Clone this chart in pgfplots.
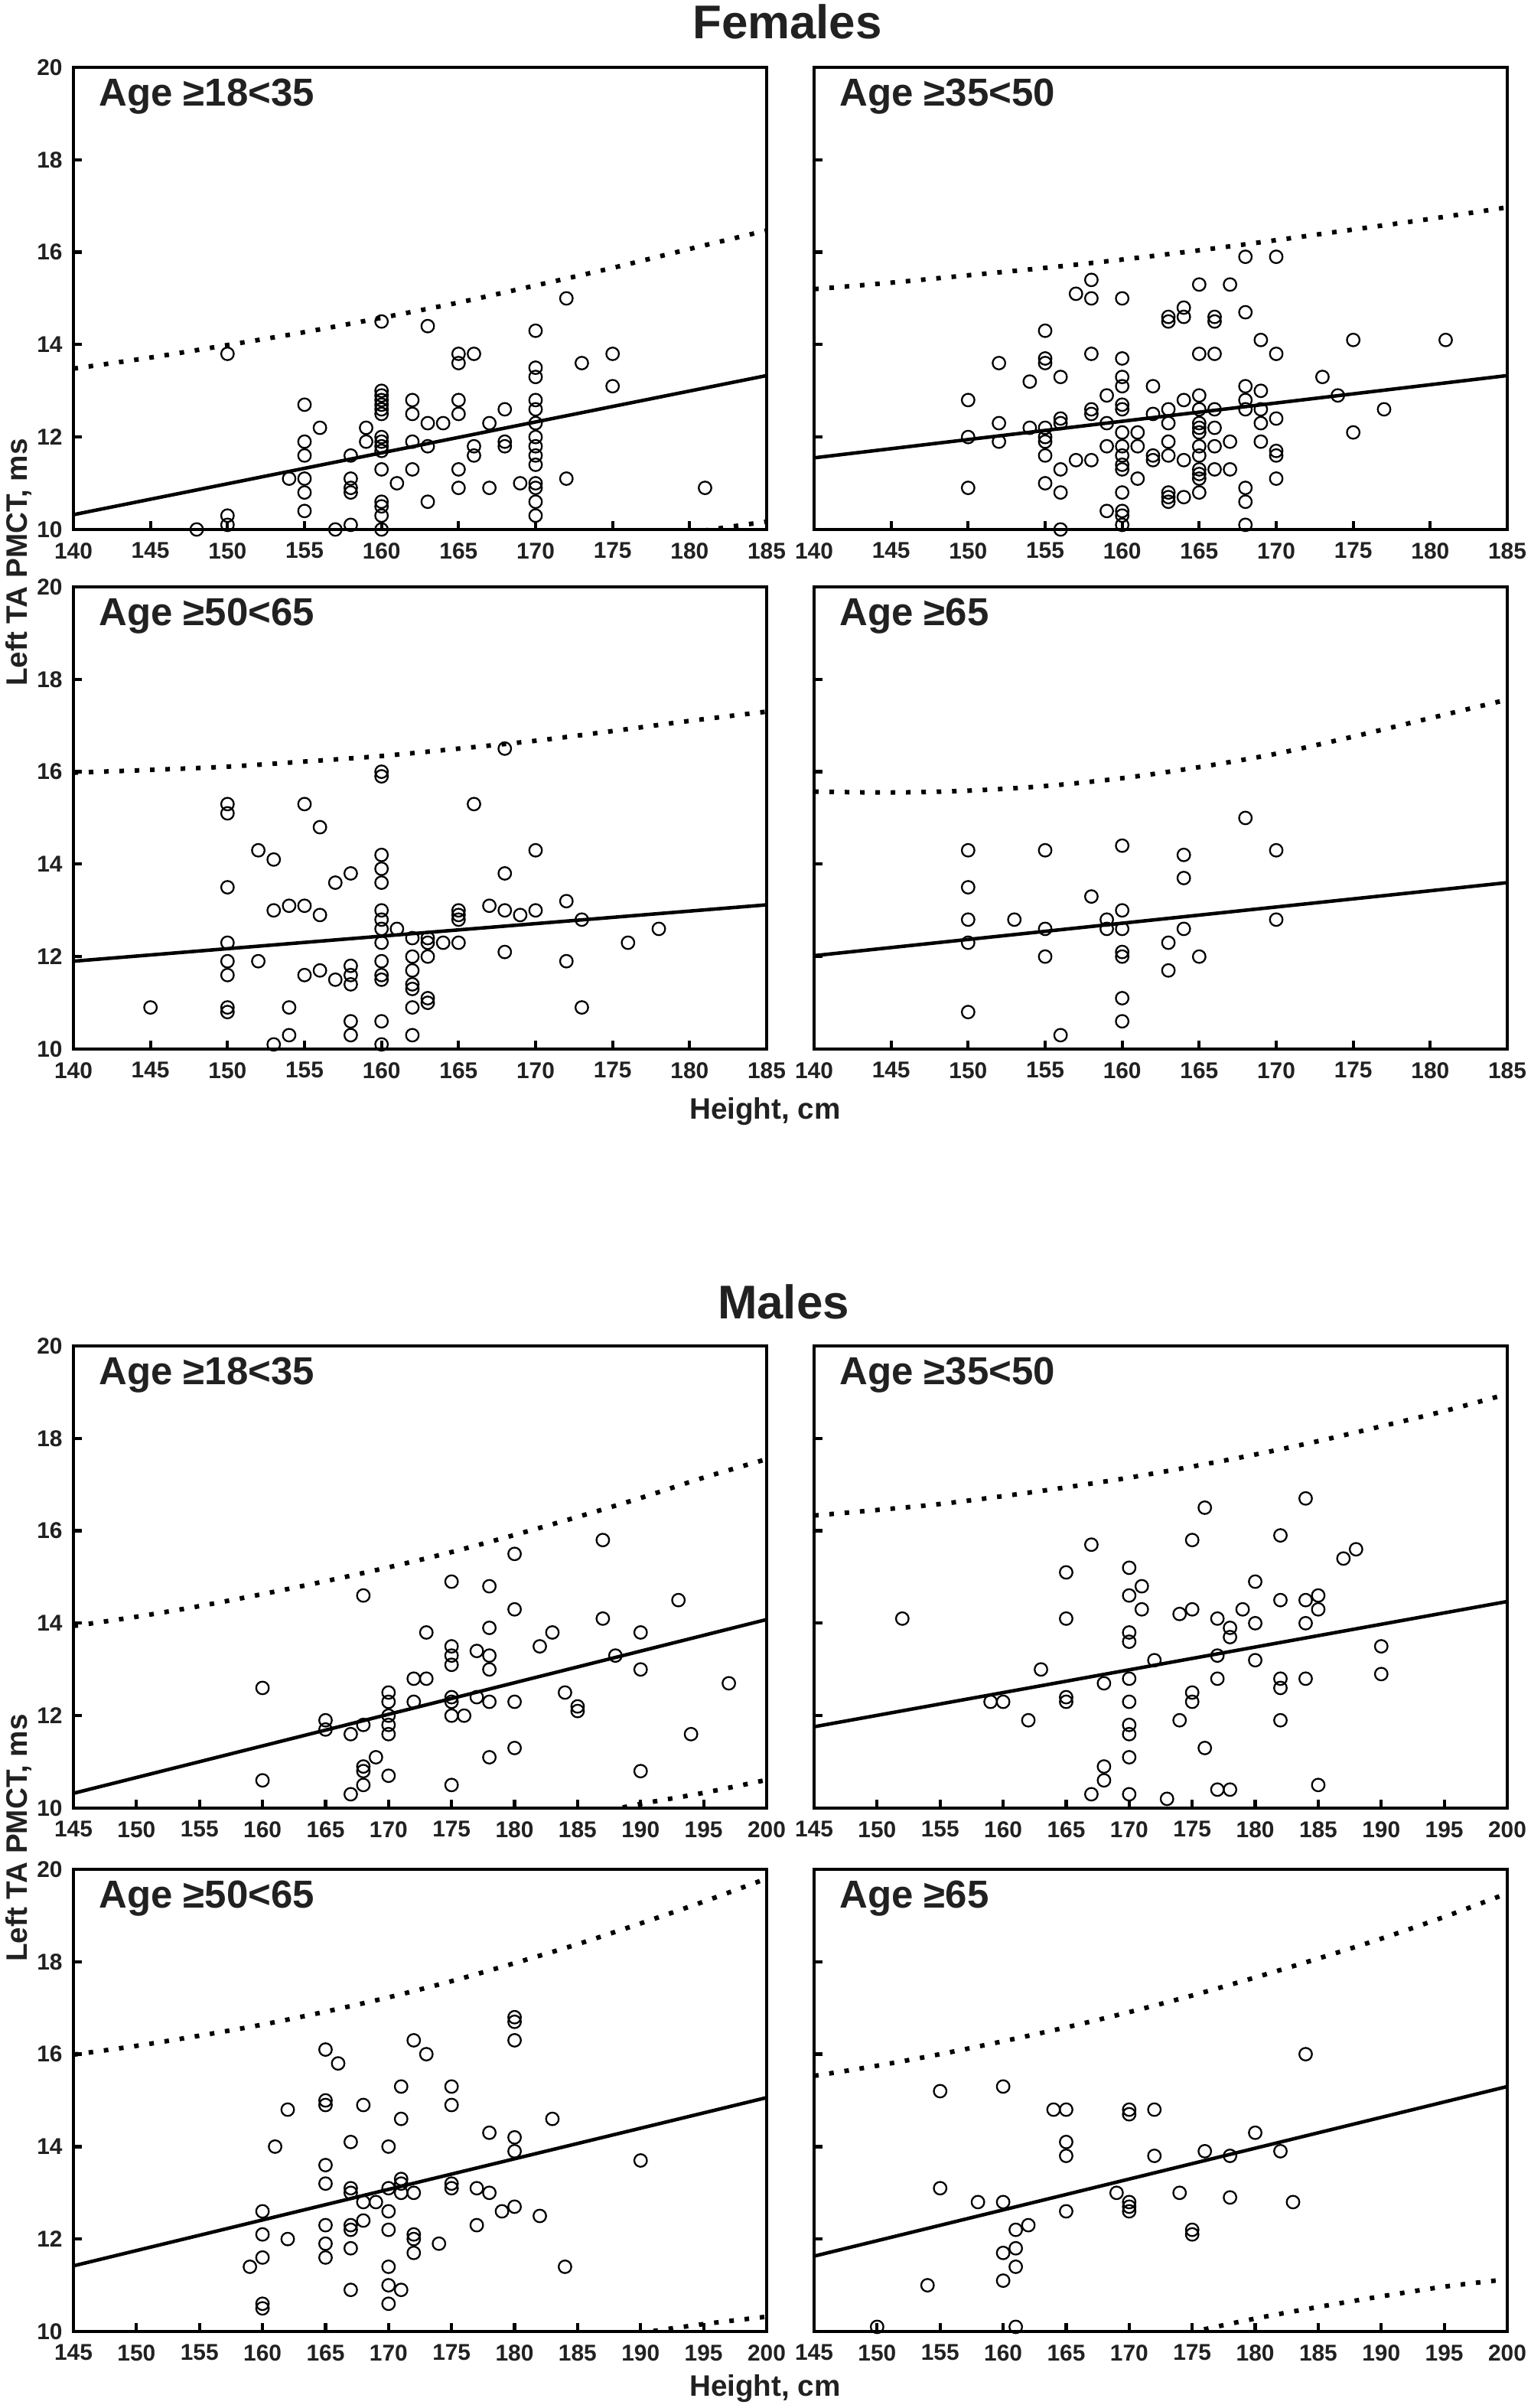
\documentclass[border=0pt]{standalone}
\usepackage{fontspec}
\setmainfont{Liberation Sans}
\usepackage{pgfplots}
\pgfplotsset{compat=1.18}
\definecolor{txt}{gray}{0.13}
\pgfplotsset{
 panel/.style={
  scale only axis, width=9.06cm, height=6.04cm,
  ymin=10, ymax=20, ytick={10,12,...,20},
  axis line style={line width=1.3pt},
  tick style={black, line width=1.2pt},
  major tick length=0.11cm,
  tick align=inside,
  xtick pos=left, ytick pos=left,
  /pgf/number format/assume math mode=true,
  ticklabel style={font=\fontsize{8.5}{10}\selectfont\bfseries, text=txt},
  xticklabel style={yshift=-0.05cm},
  yticklabel style={xshift=-0.02cm},
 },
 fem/.style={panel, xmin=140, xmax=185, xtick={140,145,...,185}},
 mal/.style={panel, xmin=145, xmax=200, xtick={145,150,...,200}},
 noy/.style={yticklabels={}},
 pts/.style={only marks, mark=o, mark size=2.35pt, mark options={line width=0.65pt, black}},
 reg/.style={black, line width=1.3pt},
 band/.style={black, line width=1.7pt, dash pattern=on 1.7pt off 4.0pt, smooth},
}
\newcommand{\agelabel}[1]{\node[anchor=base west, font=\fontsize{14.5}{17}\selectfont\bfseries, text=txt, xshift=0.21cm, yshift=-0.505cm] at (rel axis cs:0,1) {#1};}
\begin{document}
\begin{tikzpicture}
\useasboundingbox (0,0) rectangle (20,31.47);
% ---------------- Females ----------------
\node[anchor=base, font=\fontsize{17.6}{20}\selectfont\bfseries, text=txt] at (10.29,30.96) {Females};
\node[rotate=90, font=\fontsize{11}{13}\selectfont\bfseries, text=txt] at (0.24,24.12) {Left TA PMCT, ms};
\node[anchor=base, font=\fontsize{11}{13}\selectfont\bfseries, text=txt] at (10.0,16.84) {Height, cm};

\begin{axis}[fem, at={(0.96cm,24.55cm)}, anchor=south west]
\addplot[pts] coordinates {(148,10.0)(150,13.8)(150,10.3)(150,10.1)(154,11.1)(155,12.7)(155,11.9)(155,11.6)(155,11.1)(155,10.8)(155,10.4)(156,12.2)(157,10.0)(158,11.6)(158,11.1)(158,10.9)(158,10.8)(158,10.1)(159,12.2)(159,11.9)(160,14.5)(160,13.0)(160,12.9)(160,12.8)(160,12.7)(160,12.6)(160,12.5)(160,12.0)(160,11.9)(160,11.8)(160,11.7)(160,11.3)(160,10.6)(160,10.5)(160,10.3)(160,10.0)(161,11.0)(162,12.8)(162,12.5)(162,11.9)(162,11.3)(163,14.4)(163,12.3)(163,11.8)(163,10.6)(164,12.3)(165,13.8)(165,13.6)(165,12.8)(165,12.5)(165,11.3)(165,10.9)(166,13.8)(166,11.8)(166,11.6)(167,12.3)(167,10.9)(168,12.6)(168,11.9)(168,11.8)(169,11.0)(170,14.3)(170,13.5)(170,13.3)(170,12.8)(170,12.6)(170,12.3)(170,12.0)(170,11.8)(170,11.6)(170,11.4)(170,11.0)(170,10.9)(170,10.6)(170,10.3)(172,15.0)(172,11.1)(173,13.6)(175,13.8)(175,13.1)(181,10.9)};
\addplot[reg] coordinates {(140,10.32)(185,13.33)};
\addplot[band] coordinates {(140,13.48)(145,13.72)(150,13.99)(155,14.27)(160,14.58)(165,14.91)(170,15.28)(175,15.66)(180,16.07)(185,16.47)};
\addplot[band] coordinates {(175,9.66)(180,9.93)(185,10.17)};
\agelabel{Age ≥18<35}
\end{axis}

\begin{axis}[fem, noy, at={(10.64cm,24.55cm)}, anchor=south west]
\addplot[pts] coordinates {(150,12.8)(150,12.0)(150,10.9)(152,13.6)(152,12.3)(152,11.9)(154,13.2)(154,12.2)(155,14.3)(155,13.7)(155,13.6)(155,12.2)(155,12.0)(155,11.9)(155,11.6)(155,11.0)(156,13.3)(156,12.4)(156,12.3)(156,11.3)(156,10.8)(156,10.0)(157,15.1)(157,11.5)(158,15.4)(158,15.0)(158,13.8)(158,12.6)(158,12.5)(158,11.5)(159,12.9)(159,12.3)(159,11.8)(159,10.4)(160,15.0)(160,13.7)(160,13.3)(160,13.1)(160,12.7)(160,12.6)(160,12.1)(160,11.8)(160,11.6)(160,11.4)(160,11.3)(160,10.8)(160,10.4)(160,10.3)(160,10.1)(161,12.1)(161,11.8)(161,11.1)(162,13.1)(162,12.5)(162,11.6)(162,11.5)(163,14.6)(163,14.5)(163,12.6)(163,12.3)(163,11.9)(163,11.6)(163,10.8)(163,10.7)(163,10.6)(164,14.8)(164,14.6)(164,12.8)(164,11.5)(164,10.7)(165,15.3)(165,13.8)(165,12.9)(165,12.6)(165,12.3)(165,12.2)(165,12.1)(165,11.8)(165,11.6)(165,11.3)(165,11.2)(165,11.1)(165,10.8)(166,14.6)(166,14.5)(166,13.8)(166,12.6)(166,12.2)(166,11.8)(166,11.3)(167,15.3)(167,11.9)(167,11.3)(168,15.9)(168,14.7)(168,13.1)(168,12.8)(168,12.6)(168,10.9)(168,10.6)(168,10.1)(169,14.1)(169,13.0)(169,12.6)(169,12.3)(169,11.9)(170,15.9)(170,13.8)(170,12.4)(170,11.7)(170,11.6)(170,11.1)(173,13.3)(174,12.9)(175,14.1)(175,12.1)(177,12.6)(181,14.1)};
\addplot[reg] coordinates {(140,11.55)(185,13.33)};
\addplot[band] coordinates {(140,15.20)(145,15.34)(150,15.50)(155,15.66)(160,15.84)(165,16.04)(170,16.26)(175,16.49)(180,16.72)(185,16.97)};
\agelabel{Age ≥35<50}
\end{axis}

\begin{axis}[fem, at={(0.96cm,17.76cm)}, anchor=south west]
\addplot[pts] coordinates {(145,10.9)(150,15.3)(150,15.1)(150,13.5)(150,12.3)(150,11.9)(150,11.6)(150,10.9)(150,10.8)(152,14.3)(152,11.9)(153,14.1)(153,13.0)(153,10.1)(154,13.1)(154,10.9)(154,10.3)(155,15.3)(155,13.1)(155,11.6)(156,14.8)(156,12.9)(156,11.7)(157,13.6)(157,11.5)(158,13.8)(158,11.8)(158,11.6)(158,11.4)(158,10.6)(158,10.3)(160,16.0)(160,15.9)(160,14.2)(160,13.9)(160,13.6)(160,13.0)(160,12.8)(160,12.6)(160,12.3)(160,11.9)(160,11.6)(160,11.5)(160,10.6)(160,10.1)(161,12.6)(162,12.4)(162,12.0)(162,11.7)(162,11.4)(162,11.3)(162,10.9)(162,10.3)(163,12.4)(163,12.3)(163,12.0)(163,11.1)(163,11.0)(164,12.3)(165,13.0)(165,12.9)(165,12.8)(165,12.3)(166,15.3)(167,13.1)(168,16.5)(168,13.8)(168,13.0)(168,12.1)(169,12.9)(170,14.3)(170,13.0)(172,13.2)(172,11.9)(173,12.8)(173,10.9)(176,12.3)(178,12.6)};
\addplot[reg] coordinates {(140,11.90)(185,13.12)};
\addplot[band] coordinates {(140,15.98)(145,16.04)(150,16.11)(155,16.22)(160,16.34)(165,16.50)(170,16.67)(175,16.88)(180,17.10)(185,17.30)};
\agelabel{Age ≥50<65}
\end{axis}

\begin{axis}[fem, noy, at={(10.64cm,17.76cm)}, anchor=south west]
\addplot[pts] coordinates {(150,14.3)(150,13.5)(150,12.8)(150,12.3)(150,10.8)(153,12.8)(155,14.3)(155,12.6)(155,12.0)(156,10.3)(158,13.3)(159,12.8)(159,12.6)(160,14.4)(160,13.0)(160,12.6)(160,12.1)(160,12.0)(160,11.1)(160,10.6)(163,12.3)(163,11.7)(164,14.2)(164,13.7)(164,12.6)(165,12.0)(168,15.0)(170,14.3)(170,12.8)};
\addplot[reg] coordinates {(140,12.02)(185,13.60)};
\addplot[band] coordinates {(140,15.57)(145,15.55)(150,15.59)(155,15.69)(160,15.86)(165,16.10)(170,16.39)(175,16.76)(180,17.16)(185,17.56)};
\agelabel{Age ≥65}
\end{axis}

% ---------------- Males ----------------
\node[anchor=base, font=\fontsize{17.6}{20}\selectfont\bfseries, text=txt] at (10.24,14.23) {Males};
\node[rotate=90, font=\fontsize{11}{13}\selectfont\bfseries, text=txt] at (0.24,7.45) {Left TA PMCT, ms};
\node[anchor=base, font=\fontsize{11}{13}\selectfont\bfseries, text=txt] at (10.0,0.15) {Height, cm};

\begin{axis}[mal, at={(0.96cm,7.84cm)}, anchor=south west]
\addplot[pts] coordinates {(160,12.6)(160,10.6)(165,11.9)(165,11.7)(167,11.6)(167,10.3)(168,14.6)(168,11.8)(168,10.9)(168,10.8)(168,10.5)(169,11.1)(170,12.5)(170,12.3)(170,12.0)(170,11.8)(170,11.6)(170,10.7)(172,12.8)(172,12.3)(173,13.8)(173,12.8)(175,14.9)(175,13.5)(175,13.3)(175,13.1)(175,12.4)(175,12.3)(175,12.0)(175,10.5)(176,12.0)(177,13.4)(177,12.4)(178,14.8)(178,13.9)(178,13.3)(178,13.0)(178,12.3)(178,11.1)(180,15.5)(180,14.3)(180,12.3)(180,11.3)(182,13.5)(183,13.8)(184,12.5)(185,12.2)(185,12.1)(187,15.8)(187,14.1)(188,13.3)(190,13.8)(190,13.0)(190,10.8)(193,14.5)(194,11.6)(197,12.7)};
\addplot[reg] coordinates {(145,10.32)(200,14.08)};
\addplot[band] coordinates {(145,13.94)(150,14.14)(155,14.37)(160,14.63)(165,14.91)(170,15.21)(175,15.54)(180,15.91)(185,16.30)(190,16.71)(195,17.15)(200,17.55)};
\addplot[band] coordinates {(185,9.82)(190,10.09)(195,10.33)(200,10.61)};
\agelabel{Age ≥18<35}
\end{axis}

\begin{axis}[mal, noy, at={(10.64cm,7.84cm)}, anchor=south west]
\addplot[pts] coordinates {(152,14.1)(159,12.3)(160,12.3)(162,11.9)(163,13.0)(165,15.1)(165,14.1)(165,12.4)(165,12.3)(167,15.7)(167,10.3)(168,12.7)(168,10.9)(168,10.6)(170,15.2)(170,14.6)(170,13.8)(170,13.6)(170,12.8)(170,12.3)(170,11.8)(170,11.6)(170,11.1)(170,10.3)(171,14.8)(171,14.3)(172,13.2)(173,10.2)(174,14.2)(174,11.9)(175,15.8)(175,14.3)(175,12.5)(175,12.3)(176,16.5)(176,11.3)(177,14.1)(177,13.3)(177,12.8)(177,10.4)(178,13.9)(178,13.7)(178,10.4)(179,14.3)(180,14.9)(180,14.0)(180,13.2)(182,15.9)(182,14.5)(182,12.8)(182,12.6)(182,11.9)(184,16.7)(184,14.5)(184,14.0)(184,12.8)(185,14.6)(185,14.3)(185,10.5)(187,15.4)(188,15.6)(190,13.5)(190,12.9)};
\addplot[reg] coordinates {(145,11.76)(200,14.47)};
\addplot[band] coordinates {(145,16.33)(150,16.45)(155,16.58)(160,16.75)(165,16.94)(170,17.15)(175,17.39)(180,17.65)(185,17.94)(190,18.26)(195,18.59)(200,18.96)};
\agelabel{Age ≥35<50}
\end{axis}

\begin{axis}[mal, at={(0.96cm,1.00cm)}, anchor=south west]
\addplot[pts] coordinates {(159,11.4)(160,12.6)(160,12.1)(160,11.6)(160,10.6)(160,10.5)(161,14.0)(162,14.8)(162,12.0)(165,16.1)(165,15.0)(165,14.9)(165,13.6)(165,13.2)(165,12.3)(165,11.9)(165,11.6)(166,15.8)(167,14.1)(167,13.1)(167,13.0)(167,12.3)(167,12.2)(167,11.8)(167,10.9)(168,14.9)(168,12.8)(168,12.4)(169,12.8)(170,14.0)(170,13.1)(170,12.6)(170,12.2)(170,11.4)(170,11.0)(170,10.6)(171,15.3)(171,14.6)(171,13.3)(171,13.2)(171,13.0)(171,10.9)(172,16.3)(172,13.0)(172,12.1)(172,12.0)(172,11.7)(173,16.0)(174,11.9)(175,15.3)(175,14.9)(175,13.2)(175,13.1)(177,13.1)(177,12.3)(178,13.0)(178,14.3)(179,12.6)(180,16.8)(180,16.7)(180,16.3)(180,14.2)(180,13.9)(180,12.7)(182,12.5)(183,14.6)(184,11.4)(190,13.7)};
\addplot[reg] coordinates {(145,11.42)(200,15.06)};
\addplot[band] coordinates {(145,15.99)(150,16.18)(155,16.40)(160,16.64)(165,16.92)(170,17.23)(175,17.58)(180,17.97)(185,18.38)(190,18.83)(195,19.30)(200,19.80)};
\addplot[band] coordinates {(185,9.76)(190,9.97)(195,10.16)(200,10.32)};
\agelabel{Age ≥50<65}
\end{axis}

\begin{axis}[mal, noy, at={(10.64cm,1.00cm)}, anchor=south west]
\addplot[pts] coordinates {(150,10.1)(154,11.0)(155,15.2)(155,13.1)(158,12.8)(160,15.3)(160,12.8)(160,11.7)(160,11.1)(161,12.2)(161,11.8)(161,11.4)(161,10.1)(162,12.3)(164,14.8)(165,14.8)(165,14.1)(165,13.8)(165,12.6)(169,13.0)(170,14.8)(170,14.7)(170,12.8)(170,12.7)(170,12.6)(172,14.8)(172,13.8)(174,13.0)(175,12.2)(175,12.1)(176,13.9)(178,13.8)(178,12.9)(180,14.3)(182,13.9)(183,12.8)(184,16.0)};
\addplot[reg] coordinates {(145,11.63)(200,15.30)};
\addplot[band] coordinates {(145,15.53)(150,15.75)(155,16.00)(160,16.28)(165,16.58)(170,16.91)(175,17.27)(180,17.66)(185,18.07)(190,18.50)(195,18.97)(200,19.48)};
\addplot[band] coordinates {(170,9.69)(175,9.99)(180,10.28)(185,10.53)(190,10.76)(195,10.97)(200,11.13)};
\agelabel{Age ≥65}
\end{axis}
\end{tikzpicture}
\end{document}
